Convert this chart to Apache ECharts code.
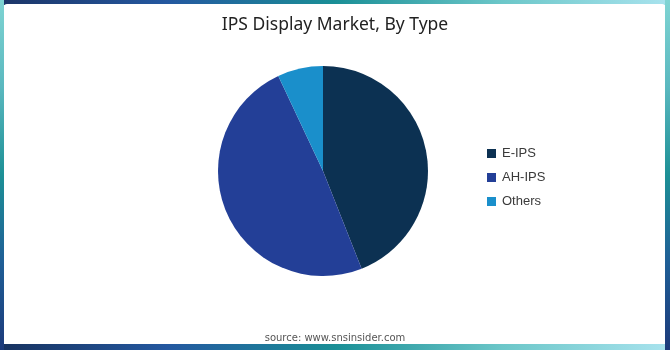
<!DOCTYPE html>
<html>
<head>
<meta charset="utf-8">
<script src="https://cdn.jsdelivr.net/npm/echarts@6/dist/echarts.min.js"></script>
<style>
html,body{margin:0;padding:0;width:670px;height:350px;overflow:hidden;background:#fff;}
.b{position:absolute;}
#top{left:0;top:0;width:670px;height:5px;background:linear-gradient(90deg,#1c3567 0%,#2458a0 25%,#1a8f96 50%,#6cc7c9 75%,#a9e3ee 100%);}
#bot{left:0;bottom:0;width:670px;height:6px;background:linear-gradient(90deg,#17325f 0%,#2458a0 25%,#1a8f96 50%,#6cc7c9 75%,#a9e3ee 100%);}
#lef{left:0;top:0;width:4px;height:350px;background:linear-gradient(180deg,#7fd4d3 0%,#5ab8bf 25%,#1d9096 50%,#1f5e96 75%,#1c3a7a 100%);}
#rig{right:0;top:0;width:5px;height:350px;background:linear-gradient(180deg,#7fd4d3 0%,#5ab8bf 25%,#1d9096 50%,#1f5e96 75%,#1c3a7a 100%);}
#panel{position:absolute;left:4px;top:4px;width:661px;height:340px;background:#fff;border-radius:3px;}
#chart{position:absolute;left:0;top:0;width:670px;height:350px;}
</style>
</head>
<body>
<div class="b" id="top"></div>
<div class="b" id="bot"></div>
<div class="b" id="lef"></div>
<div class="b" id="rig"></div>
<div id="panel"></div>
<div id="chart"></div>
<script>
var categories = ['E-IPS', 'AH-IPS', 'Others'];
var values = [44, 49, 7];
var colors = ['#0c3152', '#233f97', '#1a8fcb'];
var titleText = 'IPS Display Market, By Type';
var sourceText = 'source: www.snsinsider.com';

var chart = echarts.init(document.getElementById('chart'), null, {renderer: 'canvas'});
chart.setOption({
  backgroundColor: 'transparent',
  animation: false,
  title: {
    text: titleText,
    left: 'center',
    top: 11,
    textStyle: {fontFamily: 'Noto Sans', fontWeight: 'normal', fontSize: 17.5, color: '#222'}
  },
  legend: {
    orient: 'vertical',
    left: 482,
    top: 142,
    itemWidth: 9,
    itemHeight: 9,
    itemGap: 11,
    icon: 'rect',
    textStyle: {fontFamily: 'Liberation Sans', fontSize: 13, color: '#3a3a3a', padding: [0, 0, 0, 1]},
    data: categories
  },
  graphic: [{
    type: 'text',
    left: 'center',
    top: 333,
    style: {text: sourceText, fontFamily: 'DejaVu Sans', fontSize: 10, fill: '#555', letterSpacing: 1.4}
  }],
  series: [{
    type: 'pie',
    center: [323, 171],
    radius: 105,
    startAngle: 90,
    clockwise: true,
    label: {show: false},
    labelLine: {show: false},
    itemStyle: {borderWidth: 0},
    emphasis: {disabled: true},
    data: categories.map(function (c, i) {
      return {name: c, value: values[i], itemStyle: {color: colors[i]}};
    })
  }]
});
</script>
</body>
</html>
